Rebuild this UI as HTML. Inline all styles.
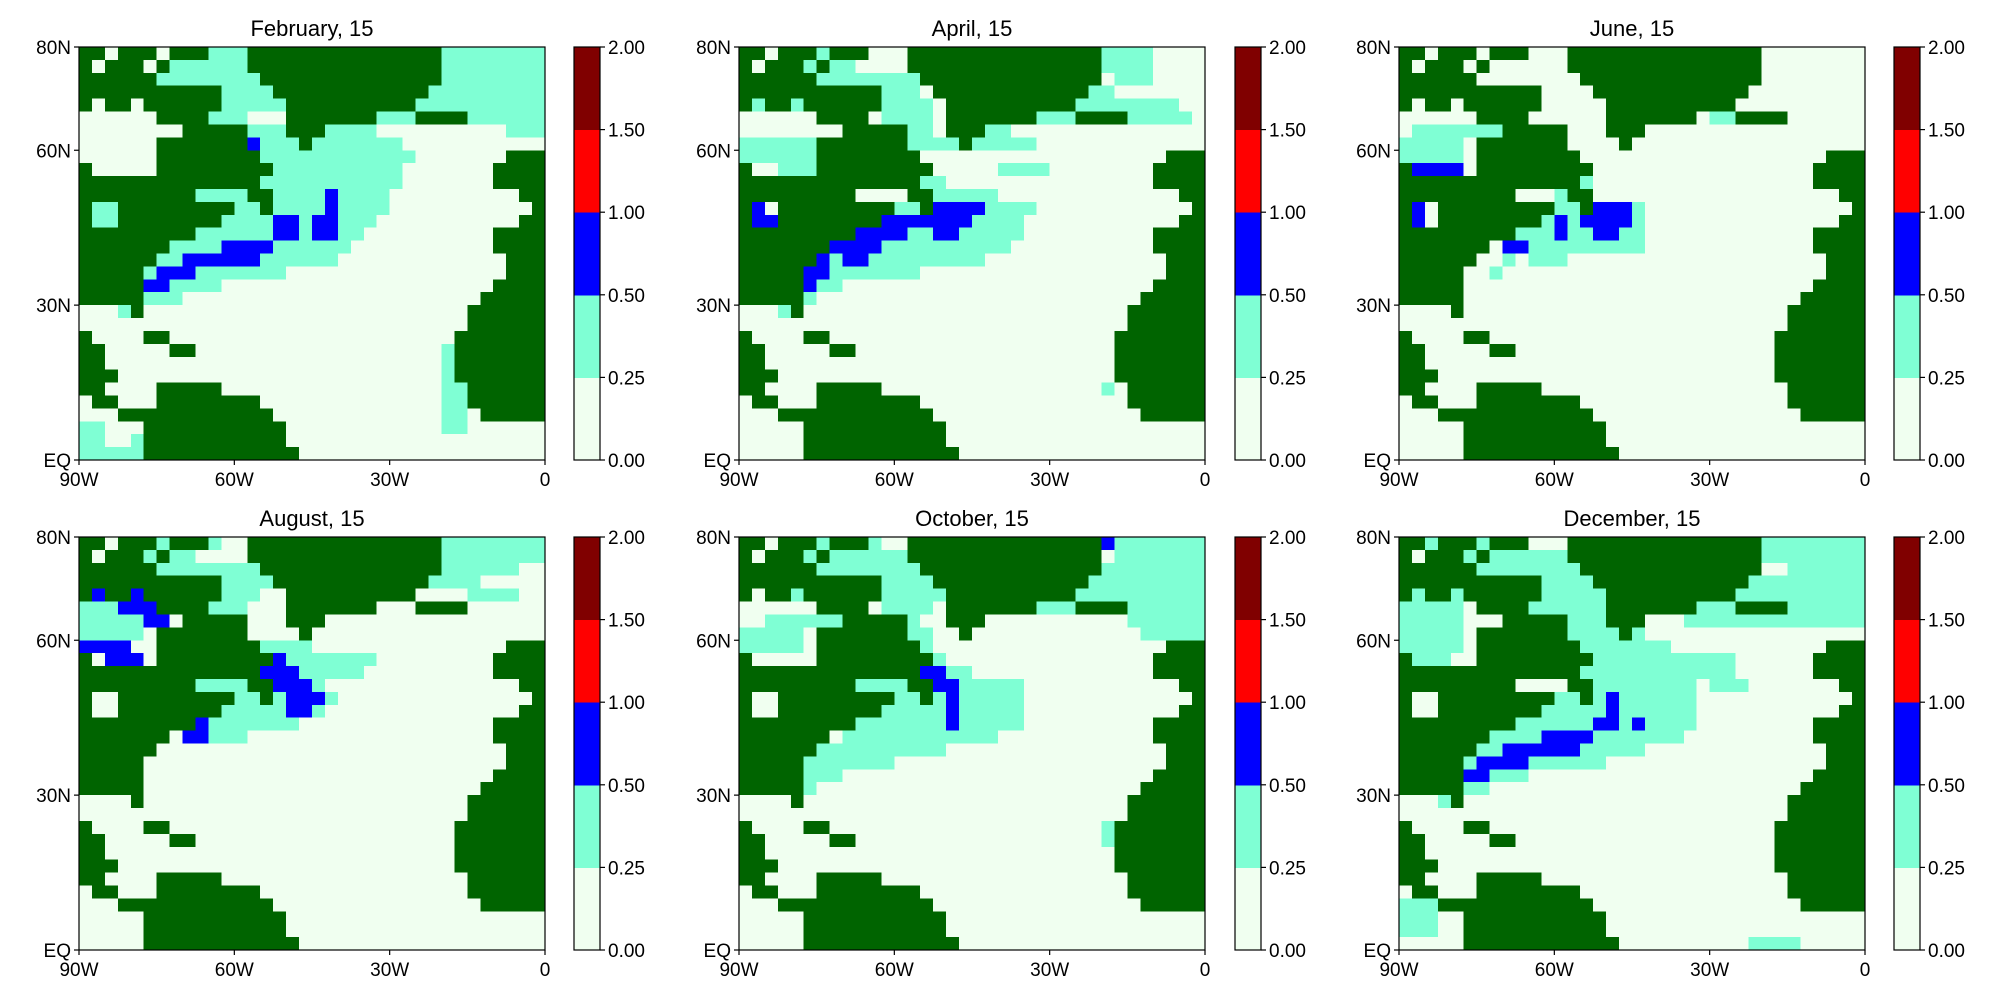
<!DOCTYPE html>
<html><head><meta charset="utf-8">
<style>
html,body{margin:0;padding:0;background:#fff;}
svg{display:block;font-family:"Liberation Sans","DejaVu Sans",sans-serif;}
</style></head>
<body>
<svg id="fig" width="2000" height="1000" viewBox="0 0 2000 1000" xmlns="http://www.w3.org/2000/svg"></svg>
<script>
const titles = ["February, 15","April, 15","June, 15","August, 15","October, 15","December, 15"];
const latTicks = [80,60,30,0];
const latLabels = ["80N","60N","30N","EQ"];
const lonTicks = [-90,-60,-30,0];
const lonLabels = ["90W","60W","30W","0"];
const cbBounds = [0,0.25,0.5,1.0,1.5,2.0];
const cbLabels = ["0.00","0.25","0.50","1.00","1.50","2.00"];
const cbColors = ["#f0fff0","#7fffd4","#0000ff","#ff0000","#800000"];
const landColor = "#006400";
// land mask, 2.5° cells, rows from 80N southward, cols from 90W eastward
const landMask = [
"LL.LLL.LLL...LLLLLLLLLLLLLLL........",
"L.LLL.L......LLLLLLLLLLLLLLL........",
"LLLLLL........LLLLLLLLLLLLLL........",
"LLLLLLLLLLL....LLLLLLLLLLLL.........",
"L.LL.LLLLLL.....LLLLLLLLLL..........",
"......LLLL......LLLLLLL...LLLL......",
"........LLLLL...LLL.................",
"......LLLLLLL....L..................",
"......LLLLLLLL...................LLL",
"L.....LLLLLLLLL.................LLLL",
"LLLLLLLLLLLLLL..................LLLL",
"LLLLLLLLL....LL...................LL",
"L..LLLLLLLLL..L....................L",
"L..LLLLLLLL.......................LL",
"LLLLLLLLL.......................LLLL",
"LLLLLLL.........................LLLL",
"LLLLLL...........................LLL",
"LLLLL............................LLL",
"LLLLL...........................LLLL",
"LLLLL..........................LLLLL",
"....L.........................LLLLLL",
"..............................LLLLLL",
"L....LL......................LLLLLLL",
"LL.....LL....................LLLLLLL",
"LL...........................LLLLLLL",
"LLL..........................LLLLLLL",
"LL....LLLLL...................LLLLLL",
".LL...LLLLLLLL................LLLLLL",
"...LLLLLLLLLLLL................LLLLL",
".....LLLLLLLLLLL....................",
".....LLLLLLLLLLL....................",
".....LLLLLLLLLLLL..................."];
// ocean categories: '.' <0.25, 'c' 0.25-0.5, 'b' 0.5-1.0
const febGrid = [
"..........ccc...............cccccccc","......cccccccc..............cccccccc","......cccccccc..............cccccccc",
"...........cccc............ccccccccc","...........ccccc..........cccccccccc","..........ccc..........ccc....cccccc",
".............ccc...cccc..........ccc",".............bccc.ccccccc...........",".............bcccccccccccc..........",
"..............ccccccccccc...........","..............ccccccccccc...........",".........cccc..ccccbcccc............",
".cc........ccc.ccccbcccc............",".cc........ccccbbcbbccc.............",".........ccccccbbcbbcc..............",
".......ccccbbbbcccccc...............","......ccbbbbbbcccccc................",".....cbbbccccccc....................",
".....bbcccc.........................","....bccc............................","...cc...............................",
"","","............................cc......","............................cc......",
"............................cc......","............................cc......","............................cc......",
"............................cc......","cc..........................cc......","cc..c...............................","ccccc..............................."];
const aprGrid = [
"......cccc.................ccccc....",".....cccc..................ccccc....",".....ccccccccc...............ccc....",
"cc......cccccc.............cc.......","cccccc....ccccc........ccccccccccc..","...........cccc....cccccccc...ccccc.",
"...........cccc...ccc...............","cccccc.....cccccccccccc.............","cccccc....cccc......................",
"...ccc.....ccc......cccc............","............cccc....................",".............ccccccc................",
"bb......ccbbcccbbbbcccc.............",".bbb....ccbbbbbbbbcccc..............",".......bbbbbbccbbccccc..............",
"......bbbbbcccccccccc...............",".....bbcbbccccccccc.................",".....bbccccccc......................",
".....bcc............................","...ccc..............................","...cc...............................",
"","","","","","............................c.......","","","","",""];
const junGrid = [
"","","","","","........................cccc........",
".ccccccccc..........................","ccccc...cccc........................","ccccc....bccc.......................",
"bbbbb......cc.......................","...bb.......ccc.....................","............ccb.....................",
"bb......cccccccbbbc.................",".b.b....ccccbcbbbbc.................","........ccccbccbbcc.................",
"........bbccccccccc.................","........c.ccc.......................",".......c............................",
"","","","","","","","","","","","","",""];
const augGrid = [
"...cccccccc.................cccccccc","...cccccc...................cccccccc",".....ccccccccc............cccccccc..",
".........ccccccc.........cccccc.....","bbbbb....ccccc................cccc..","cccbbbb...ccc.......................",
"cccccbb..ccc........................","ccccc....bbb........................","bbbb.......bbccccc..................",
"..bbb.......bbbbccccccc.............","...bb.........bbbccccc..............",".........ccccccbbbc.................",
".........cccccccbbbc................","..........ccccccbbc.................","........cbccccccc...................",
"........bbccc.......................","","","","","","","","","","","","","","","",""];
const octGrid = [
".....cccccc.................bccccccc","....ccccccccc................ccccccc",".....ccccccccc...........ccccccccccc",
"..........ccccc............ccccccccc","..ccccc...cccccc.......ccccccccccccc","...........cccc.......cccccccccccccc",
"..cccccccccccc................cccccc","ccccc......cccc................ccccc","ccccc.......bcc.....................",
"...........ccbbc....................","............ccbbcc..................",".........ccccccbbccccc..............",
"..........ccccccbccccc..............",".........cccccccbccccc..............","........ccccccccbccccc..............",
"........cccccccccccc................","......cccccccccc....................",".....ccccccc........................",
"....cccc............................","...ccc..............................","","",
"............................cc......","............................cc......","","","","","","","",""];
const decGrid = [
"cccccccccc..................cccccccc","..cccccccccccc..............cccccccc","....cccccccccc................cccccc",
"cccc....cccccccc...........ccccccccc","cccccc...ccccccc..........cccccccccc","ccccc.....ccccccc....ccccccccccccccc",
"ccccc......ccccccc....cccccccccccccc","ccccc....cccccccccc.................","ccccc.....ccccccccccc...............",
"cccc........cccccccccccccc..........",".............ccccccccccccc..........",".............cccccccccc.ccc.........",
"........ccccccccbcccccc.............",".......cccccccccbcccccc.............",".....ccccccccccbbcbcccc.............",
"......cccccbbbbccccccc..............",".....cccbbbbbbccccc.................","....ccbbbbcccccc....................",
"....cbbccc..........................","...cccc.............................","...c................................",
"","","","","","","","ccc.................................","ccc.................................",
"ccc.................................","...........................cccc....."];
const grids = [febGrid,aprGrid,junGrid,augGrid,octGrid,decGrid];

const NS = "http://www.w3.org/2000/svg";
const svg = document.getElementById("fig");
const plotX = [79,739,1399], plotY = [47,537], plotW = 466, plotH = 413;
const cbX = [574,1235,1894], cbW = 26;
const NC = 36, NR = 32;
function mk(tag, attrs, parent){const e=document.createElementNS(NS,tag);for(const k in attrs)e.setAttribute(k,attrs[k]);(parent||svg).appendChild(e);return e;}
const catColor = {'.':cbColors[0],'c':cbColors[1],'b':cbColors[2]};

grids.forEach((grid,p)=>{
  const px = plotX[p%3], py = plotY[Math.floor(p/3)];
  const xS = lon => px + (lon+90)/90*plotW;
  const yS = lat => py + (80-lat)/80*plotH;
  const g = mk("g",{});
  
  
  const cells = mk("g",{"shape-rendering":"crispEdges"},g);
  
  
  for(let r=0;r<NR;r++){
    const row = (grid[r]||"").padEnd(NC,".");
    for(let c=0;c<NC;c++){
      const lon0=-90+c*2.5, lat0=80-r*2.5;
      const land = landMask[r][c]==='L';
      const col = land ? landColor : (catColor[row[c]]||cbColors[0]);
      const x0=xS(lon0), x1=xS(lon0+2.5), y0=yS(lat0), y1=yS(lat0-2.5);
      const rc = mk("rect",{x:x0.toFixed(2),y:y0.toFixed(2),width:(x1-x0+0.6).toFixed(2),height:(y1-y0+0.6).toFixed(2),fill:col},cells);
      
      
    }
  }
  const frame = mk("rect",{x:px,y:py,width:plotW,height:plotH,fill:"none",stroke:"#000","stroke-width":1.2},g);
  
  
  const t = mk("text",{x:px+plotW/2,y:py-11,"text-anchor":"middle","font-size":22},g);
  t.textContent = titles[p];
  
  
  latTicks.forEach((lat,i)=>{
    const y=yS(lat);
    mk("line",{x1:px-5,x2:px,y1:y,y2:y,stroke:"#000","stroke-width":1.2},g);
    const tl = mk("text",{x:px-8,y:y+7,"text-anchor":"end","font-size":19},g);
    tl.textContent = latLabels[i];
    
    
  });
  lonTicks.forEach((lon,i)=>{
    const x=xS(lon);
    mk("line",{x1:x,x2:x,y1:py+plotH,y2:py+plotH+5,stroke:"#000","stroke-width":1.2},g);
    const tl = mk("text",{x:x,y:py+plotH+26,"text-anchor":"middle","font-size":19},g);
    tl.textContent = lonLabels[i];
    
    
  });
  // colorbar (bins evenly spaced)
  const cx = cbX[p%3];
  const cb = mk("g",{"shape-rendering":"crispEdges"},g);
  
  
  const nb = cbColors.length;
  const cbY = i => py + plotH - i/nb*plotH;
  cbColors.forEach((col,i)=>{
    const seg = mk("rect",{x:cx,y:cbY(i+1),width:cbW,height:cbY(i)-cbY(i+1)+0.5,fill:col},cb);
    
    
  });
  mk("rect",{x:cx,y:py,width:cbW,height:plotH,fill:"none",stroke:"#000","stroke-width":1.2},g);
  cbBounds.forEach((v,i)=>{
    const y=cbY(i);
    mk("line",{x1:cx+cbW,x2:cx+cbW+5,y1:y,y2:y,stroke:"#000","stroke-width":1.2},g);
    const tl = mk("text",{x:cx+cbW+8,y:y+7,"font-size":19},g);
    tl.textContent = cbLabels[i];
    
    
  });
});
</script>
</body></html>
